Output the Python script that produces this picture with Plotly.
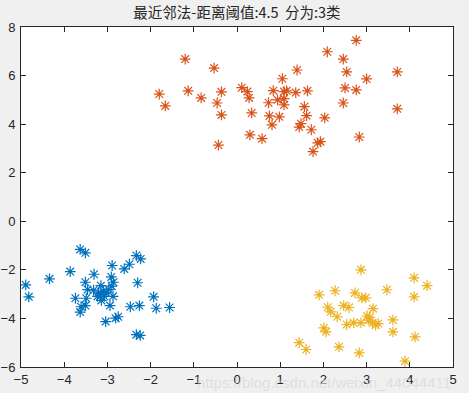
import plotly.graph_objects as go

title_text = "最近邻法-距离阈值:4.5\u00a0\u00a0分为:3类"

blue_x = [-3.63, -3.51, -4.34, -3.86, -4.89, -4.82, -3.31, -2.89, -2.91, -2.61, -2.49, -2.33, -2.23,
          -3.51, -2.86, -2.30, -3.74, -3.49, -3.46, -3.32, -3.15,
          -3.20, -3.09, -3.03, -3.17, -3.07, -2.97, -2.90, -2.87, -3.14, -3.23,
          -1.93, -3.61, -3.63, -3.51, -2.94, -2.47, -2.26, -1.87, -1.56, -3.04, -2.81, -2.75, -2.33, -2.24]
blue_y = [-1.16, -1.30, -2.37, -2.07, -2.62, -3.11, -2.18, -1.82, -2.29, -1.96, -1.77, -1.41, -1.55,
          -2.51, -2.51, -2.53, -3.17, -3.17, -2.81, -2.84, -2.65,
          -2.95, -2.89, -2.95, -3.09, -3.09, -2.81, -2.67, -3.09, -3.26, -3.09,
          -3.11, -3.52, -3.74, -3.47, -3.47, -3.52, -3.47, -3.58, -3.55, -4.13, -3.99, -3.93, -4.67, -4.70]

orange_x = [-1.20, -0.53, -1.80, -1.66, -1.13, -0.83, -0.36, -0.46, -0.36, -0.43, 0.11, 0.24, 0.28,
            0.34, 0.30, 0.58, 0.73, 0.84, 0.94, 0.75, 0.98, 0.81, 1.05, 1.09, 1.15, 1.09, 1.09,
            1.36, 1.39, 1.63, 1.56, 1.61, 1.48, 1.44, 1.72, 2.03, 1.87, 1.93, 1.76, 2.09, 2.46,
            2.54, 2.50, 2.46, 2.76, 3.00, 2.76, 3.71, 3.71, 2.83]
orange_y = [6.68, 6.31, 5.24, 4.75, 5.37, 5.08, 5.33, 4.87, 4.38, 3.14, 5.50, 5.34, 5.08,
            4.46, 3.56, 3.40, 4.88, 5.38, 5.00, 4.34, 4.30, 3.97, 5.87, 5.34, 5.37, 5.05, 4.79,
            5.30, 6.23, 5.37, 4.72, 4.35, 4.02, 3.88, 3.77, 4.26, 3.23, 3.28, 2.87, 6.98, 6.68,
            6.15, 5.49, 4.87, 7.45, 5.86, 5.41, 6.15, 4.63, 3.47]

yellow_x = [2.87, 4.10, 4.40, 4.10, 1.90, 2.27, 2.73, 2.89, 2.98, 3.47, 2.10, 2.17, 2.32, 2.47,
            2.59, 3.15, 3.01, 3.07, 3.04, 3.61, 2.54, 2.70, 2.87, 3.14, 3.21, 3.27, 2.01, 2.06,
            3.61, 4.12, 1.44, 1.60, 2.36, 2.83, 3.89]
yellow_y = [-2.00, -2.33, -2.65, -3.11, -3.03, -2.86, -2.95, -3.15, -3.15, -2.82, -3.54, -3.73,
            -3.93, -3.47, -3.55, -3.60, -3.90, -3.96, -4.07, -4.06, -4.25, -4.18, -4.18, -4.19,
            -4.27, -4.21, -4.39, -4.55, -4.55, -4.76, -5.00, -5.28, -5.17, -5.42, -5.76]

x_ticks = [-5, -4, -3, -2, -1, 0, 1, 2, 3, 4, 5]
y_ticks = [-6, -4, -2, 0, 2, 4, 6, 8]

series = [
    (blue_x, blue_y, "#0072BD"),
    (orange_x, orange_y, "#D95319"),
    (yellow_x, yellow_y, "#EDB120"),
]

fig = go.Figure()
for xs, ys, col in series:
    fig.add_trace(go.Scatter(
        x=xs, y=ys, mode="markers",
        marker=dict(symbol="asterisk-open", size=9, color=col,
                    line=dict(color=col, width=1.2)),
        showlegend=False,
    ))

axis_common = dict(
    showline=True, linecolor="#262626", linewidth=1, mirror="ticks",
    ticks="inside", ticklen=5, tickcolor="#262626", showgrid=False, zeroline=False,
    automargin=False,
    tickfont=dict(family="Liberation Sans, Arial, sans-serif", size=13, color="#262626"),
)

fig.update_layout(
    width=469, height=393,
    paper_bgcolor="#f0f0f0", plot_bgcolor="white",
    margin=dict(l=21, r=16, t=27, b=26, autoexpand=False),
    title=dict(text=title_text, x=0.5, xref="paper", xanchor="center",
               y=1 - 13 / 393, yref="container", yanchor="middle",
               font=dict(family="Noto Sans CJK SC, sans-serif", size=14.5, color="#262626")),
    xaxis=dict(range=[-5, 5], tickvals=x_ticks, **axis_common),
    yaxis=dict(range=[-6, 8], tickvals=y_ticks, ticklabelstandoff=2, **axis_common),
    annotations=[dict(text="https://blog.csdn.net/weixin_44044411", x=1.0, y=-26 / 340,
                      xref="paper", yref="paper", xanchor="right", yanchor="bottom",
                      showarrow=False,
                      font=dict(family="Liberation Sans, Arial, sans-serif", size=15,
                                color="rgba(215,215,215,0.7)"))],
)

fig.write_html("out.html",
               config={"displayModeBar": False},
               post_script="document.body.style.margin='0';document.body.style.overflow='hidden';")
